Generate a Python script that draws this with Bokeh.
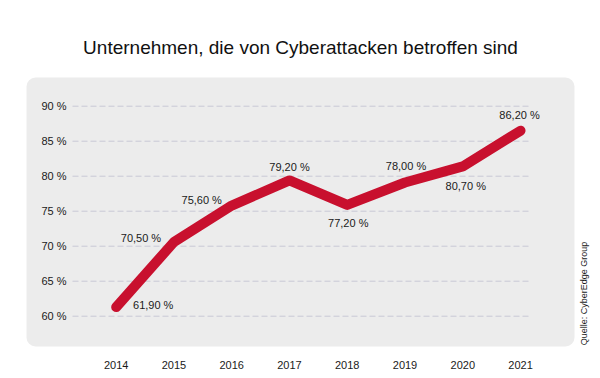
from bokeh.plotting import figure
from bokeh.models import Range1d, BoxAnnotation, Label, ColumnDataSource
from bokeh.core.properties import value
from bokeh.embed import file_html
from bokeh.resources import INLINE
import math

# ---- data ----
years = [2014, 2015, 2016, 2017, 2018, 2019, 2020, 2021]
values = [61.3, 70.6, 75.8, 79.4, 75.9, 79.1, 81.4, 86.5]
value_labels = ["61,90 %", "70,50 %", "75,60 %", "79,20 %", "77,20 %", "78,00 %", "80,70 %", "86,20 %"]
y_ticks = [60, 65, 70, 75, 80, 85, 90]
y_tick_labels = ["60 %", "65 %", "70 %", "75 %", "80 %", "85 %", "90 %"]
x_tick_labels = ["2014", "2015", "2016", "2017", "2018", "2019", "2020", "2021"]
title_text = "Unternehmen, die von Cyberattacken betroffen sind"
source_text = "Quelle: CyberEdge Group"

# ---- styling ----
FONT = "Liberation Sans"
RED = "#c8102e"
TXT = "#1a1a1a"
label_dx = [37, -33, -30, 0, 1, 1, 3, -1]
label_dy = [-2, -4, -6, -13, 18, -17, 20, -16]

W, H = 600, 378
OFF = 0
px_per_year = 57.76
x0 = 2014 - (115.7 - OFF) / px_per_year
x1 = x0 + W / px_per_year
px_per_pct = 7.0
y1 = 60 + (315.7 - OFF) / px_per_pct
y0 = y1 - H / px_per_pct

def sx(px):  # screen px -> data x
    return x0 + (px - OFF) / px_per_year

def sy(py):  # screen px -> data y
    return y1 - (py - OFF) / px_per_pct

p = figure(width=W, height=H, x_range=Range1d(x0, x1), y_range=Range1d(y0, y1),
           min_border=0, toolbar_location=None, output_backend="svg",
           x_axis_location=None, y_axis_location=None)
p.grid.visible = False
p.outline_line_color = None
p.background_fill_color = "white"
p.border_fill_color = "white"

# panel
panel = BoxAnnotation(left=sx(26), right=sx(574), top=sy(77), bottom=sy(346),
                      fill_color="#ececec", fill_alpha=1.0, line_alpha=0,
                      border_radius=9, level="underlay")
p.add_layout(panel)

# grid lines
gx0 = [sx(72)] * len(y_ticks)
gx1 = [sx(529)] * len(y_ticks)
p.segment(x0=gx0, y0=y_ticks, x1=gx1, y1=y_ticks, line_color="#c9c9d6",
          line_width=1, line_dash="6 3")

# y tick labels
p.text(x=[sx(66)] * len(y_ticks), y=y_ticks, text=y_tick_labels,
       text_font=value(FONT), text_font_size="11px", text_color=TXT,
       text_align="right", text_baseline="middle")

# x tick labels
p.text(x=years, y=[sy(364)] * len(years), text=x_tick_labels,
       text_font=value(FONT), text_font_size="11px", text_color=TXT,
       text_align="center", text_baseline="middle")

# line
p.line(years, values, line_color=RED, line_width=10, line_cap="round", line_join="round")

# value labels
src = ColumnDataSource(dict(x=years, y=values, t=value_labels, dx=label_dx, dy=label_dy))
p.text(x="x", y="y", text="t", x_offset="dx", y_offset="dy", source=src,
       text_font=value(FONT), text_font_size="11px", text_color=TXT,
       text_align="center", text_baseline="middle")

# title
p.add_layout(Label(x=sx(300), y=sy(47), text=title_text, text_font=FONT,
                   text_font_size="19px", text_color="#111111",
                   text_align="center", text_baseline="middle"))

# source
p.add_layout(Label(x=sx(583), y=sy(293), text=source_text, text_font=FONT,
                   text_font_size="9px", text_color=TXT, angle=math.pi / 2,
                   text_align="center", text_baseline="middle"))

open("out.html", "w").write(file_html(p, INLINE))
